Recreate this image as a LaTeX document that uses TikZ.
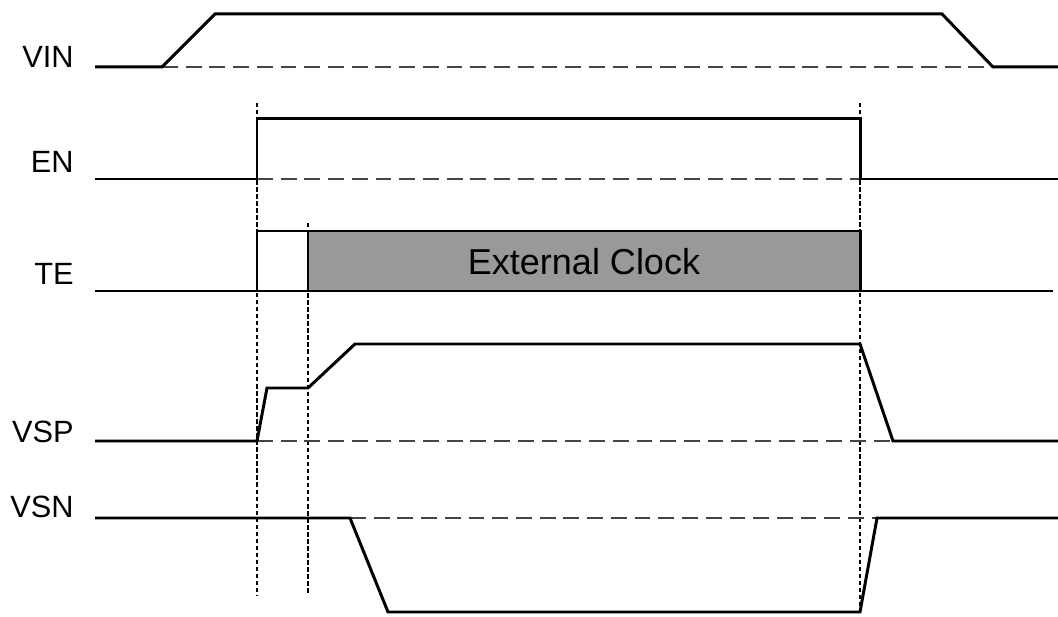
\documentclass[tikz,border=0pt]{standalone}
\usepackage{fontspec}
\setmainfont{Liberation Sans}
\definecolor{clkgray}{HTML}{999999}
\definecolor{refgray}{HTML}{444444}
\tikzset{
  signal/.style={line width=1.7pt, line join=miter},
  refline/.style={draw=refgray, line width=1.2pt, dash pattern=on 9pt off 4.5pt},
  marker/.style={line width=0.6pt, dash pattern=on 2.5pt off 1.5pt},
  siglabel/.style={anchor=base east, inner sep=0pt, font=\fontsize{17.5}{20}\selectfont}
}
\begin{document}
\begin{tikzpicture}[x=0.02cm, y=-0.02cm]
    \useasboundingbox (0,0) rectangle (1058,617);

    % signal names
    \node[siglabel] (vin) at (74,68) {VIN};
    \node[siglabel] (en) at (74,173) {EN};
    \node[siglabel] (te) at (74,285) {TE};
    \node[siglabel] (vsp) at (74,443) {VSP};
    \node[siglabel] (vsn) at (74,518) {VSN};

    % timing markers
    \draw[marker] (257,103) -- (257,595);
    \draw[marker] (308,223) -- (308,595);
    \draw[marker] (860,103) -- (860,612);

    % zero levels
    \draw[refline] (162,67) -- (993,67);
    \draw[refline] (257,179) -- (860,179);
    \draw[refline] (257,441) -- (893,441);
    \draw[refline] (350,518) -- (877,518);

    % VIN
    \draw[signal] (95,67) -- (162,67) -- (215,14) -- (942,14) -- (993,67) -- (1058,67);
    % EN
    \draw[signal] (95,179) -- (257,179) -- (257,119) -- (860,119) -- (860,179) -- (1058,179);
    % TE
    \fill[clkgray] (308,231) rectangle (860,291);
    \draw[signal] (257,291) -- (257,231) -- (308,231) -- (308,291);
    \draw[signal] (308,231) -- (860,231) -- (860,291);
    \draw[signal] (95,291) -- (1053,291);
    \node[font=\fontsize{20.5}{24}\selectfont] (clk) at (584,262) {External Clock};
    % VSP
    \draw[signal] (95,441) -- (257,441) -- (267,388) -- (308,388) -- (355,344) -- (860,344) -- (893,441) -- (1058,441);
    % VSN
    \draw[signal] (95,518) -- (350,518) -- (388,612) -- (860,612) -- (877,518) -- (1058,518);
\end{tikzpicture}
\end{document}
